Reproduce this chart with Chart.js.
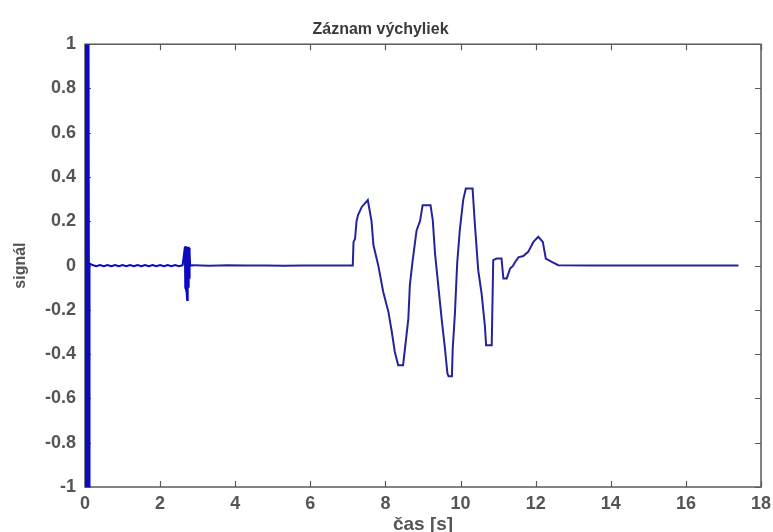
<!DOCTYPE html>
<html>
<head>
<meta charset="utf-8">
<script src="https://cdn.jsdelivr.net/npm/chart.js@4.4.1/dist/chart.umd.min.js"></script>
<style>
  html, body { margin: 0; padding: 0; background: #fff; }
</style>
</head>
<body>
<canvas id="signalChart" width="773" height="532"></canvas>
<script>
const chartTitle = 'Záznam výchyliek';
const xTitle = 'čas [s]';
const yTitle = 'signál';

const xTicks = [0, 2, 4, 6, 8, 10, 12, 14, 16, 18];
const yTicks = [-1, -0.8, -0.6, -0.4, -0.2, 0, 0.2, 0.4, 0.6, 0.8, 1];

// sample times [s]
const time = [
  0, 0.01, 0.02, 0.03, 0.04, 0.05, 0.06, 0.07, 0.08, 0.09, 0.10, 0.11, 0.12,
  0.2, 0.3, 0.4, 0.5, 0.6, 0.7, 0.8, 0.9, 1.0, 1.1, 1.2, 1.3, 1.4, 1.5, 1.6, 1.7, 1.8, 1.9, 2.0,
  2.1, 2.2, 2.3, 2.4, 2.5, 2.6,
  2.66, 2.67, 2.68, 2.69, 2.70, 2.71, 2.72, 2.73, 2.74, 2.75, 2.76, 2.77, 2.78, 2.79, 2.80,
  2.9, 3.3, 3.8, 4.3, 4.8, 5.3, 5.8, 6.3, 6.8, 7.13,
  7.15, 7.19, 7.23, 7.27, 7.37, 7.53, 7.63, 7.68, 7.81, 7.94,
  8.08, 8.17, 8.25, 8.34, 8.47, 8.61, 8.65, 8.72, 8.83, 8.92,
  8.99, 9.20, 9.26, 9.32, 9.41, 9.50, 9.58, 9.65, 9.68, 9.77,
  9.79, 9.85, 9.91, 9.98, 10.07, 10.14, 10.32, 10.38, 10.47, 10.56,
  10.65, 10.68, 10.83, 10.87, 10.96, 11.09, 11.14, 11.23, 11.32, 11.40,
  11.45, 11.54, 11.67, 11.80, 11.94, 12.07, 12.19, 12.27, 12.43, 12.60,
  13.5, 14.5, 15.5, 16.5, 17.4
];

// measured signal at each sample
const signal = [
  1, -1, 1, -1, 1, -1, 1, -1, 1, -1, 1, -1, 0.01,
  0.0025, -0.0025, 0.0025, -0.0025, 0.0025, -0.0025, 0.0025, -0.0025, 0.0025, -0.0025, 0.0025, -0.0025, 0.0025, -0.0025, 0.0025, -0.0025, 0.0025, -0.0025, 0.0025,
  -0.0025, 0.0025, -0.0025, 0.0025, -0.0025, 0.002,
  0.085, -0.1, 0.088, -0.11, 0.085, -0.12, -0.155, 0.08, -0.09, 0.085, -0.1, 0.08, -0.06, 0.06, 0,
  0.002, -0.001, 0.002, 0, 0.001, -0.001, 0.001, 0, 0.001, 0,
  0.107, 0.12, 0.2, 0.228, 0.265, 0.296, 0.2, 0.093, 0, -0.118,
  -0.21, -0.3, -0.39, -0.45, -0.45, -0.24, -0.088, 0.017, 0.16, 0.2,
  0.273, 0.273, 0.205, 0.055, -0.096, -0.246, -0.367, -0.487, -0.5, -0.5,
  -0.38, -0.216, 0.01, 0.16, 0.296, 0.348, 0.348, 0.19, -0.02, -0.126,
  -0.276, -0.36, -0.36, 0.025, 0.032, 0.032, -0.058, -0.058, -0.013, 0,
  0.015, 0.037, 0.043, 0.062, 0.107, 0.13, 0.107, 0.032, 0.017, 0.002,
  0.001, 0, 0.001, 0, 0
];

const FONT = 'Liberation Sans, Arial, Helvetica, sans-serif';
const AXIS_COLOR = '#5a5a5a';
const TICK_LEN = 6;

// box around the plot with inward ticks on every side
const frame = {
  id: 'frame',
  beforeDatasetsDraw(chart) {
    const { ctx, chartArea: a, scales: { x, y } } = chart;
    ctx.save();
    ctx.strokeStyle = AXIS_COLOR;
    ctx.lineWidth = 1.5;
    ctx.strokeRect(a.left, a.top, a.right - a.left, a.bottom - a.top);
    ctx.lineWidth = 1.2;
    ctx.beginPath();
    xTicks.forEach(v => {
      const px = Math.round(x.getPixelForValue(v)) + 0.5;
      ctx.moveTo(px, a.bottom); ctx.lineTo(px, a.bottom - TICK_LEN);
      ctx.moveTo(px, a.top); ctx.lineTo(px, a.top + TICK_LEN);
    });
    yTicks.forEach(v => {
      const py = Math.round(y.getPixelForValue(v)) + 0.5;
      ctx.moveTo(a.left, py); ctx.lineTo(a.left + TICK_LEN, py);
      ctx.moveTo(a.right, py); ctx.lineTo(a.right - TICK_LEN, py);
    });
    ctx.stroke();
    ctx.restore();
  }
};

new Chart(document.getElementById('signalChart'), {
  type: 'line',
  data: {
    datasets: [{
      data: time.map((t, i) => ({ x: t, y: signal[i] })),
      borderColor: '#24249a',
      borderWidth: 2,
      pointRadius: 0,
      tension: 0,
      segment: {
        // the start-up spike and the knock near 2.7 s are drawn in plain blue
        borderColor: c => c.p0.parsed.x < 2.85 ? '#0a0ac0' : undefined
      }
    }]
  },
  options: {
    responsive: false,
    animation: false,
    devicePixelRatio: 1,
    layout: { padding: { top: 0, right: 12, bottom: 0, left: 0 } },
    plugins: {
      legend: { display: false },
      tooltip: { enabled: false },
      title: {
        display: true,
        text: chartTitle,
        color: '#3a3a3a',
        font: { family: FONT, size: 16, weight: 'bold' },
        padding: { top: 20, bottom: 5 }
      }
    },
    scales: {
      x: {
        type: 'linear',
        min: 0,
        max: 18,
        afterBuildTicks: s => { s.ticks = xTicks.map(v => ({ value: v })); },
        afterFit: s => { s.height = 45; s.paddingRight = 4; },
        grid: { display: false, drawTicks: false },
        border: { display: false },
        ticks: { color: '#555', font: { family: FONT, size: 18, weight: 'bold' }, padding: 6, maxRotation: 0 },
        title: {
          display: true,
          text: xTitle,
          color: '#555',
          font: { family: FONT, size: 19, weight: 'bold', lineHeight: 0.8 },
          padding: { top: 0, bottom: 0 }
        }
      },
      y: {
        type: 'linear',
        min: -1,
        max: 1,
        afterBuildTicks: s => { s.ticks = yTicks.map(v => ({ value: v })); },
        afterFit: s => { s.width = 85; },
        grid: { display: false, drawTicks: false },
        border: { display: false },
        ticks: {
          color: '#555',
          font: { family: FONT, size: 18, weight: 'bold' },
          padding: 9,
          callback: v => String(Number(v.toFixed(1)))
        },
        title: {
          display: true,
          text: yTitle,
          color: '#555',
          font: { family: FONT, size: 16, weight: 'bold' },
          padding: { top: 11, bottom: 0 }
        }
      }
    }
  },
  plugins: [frame]
});
</script>
</body>
</html>
